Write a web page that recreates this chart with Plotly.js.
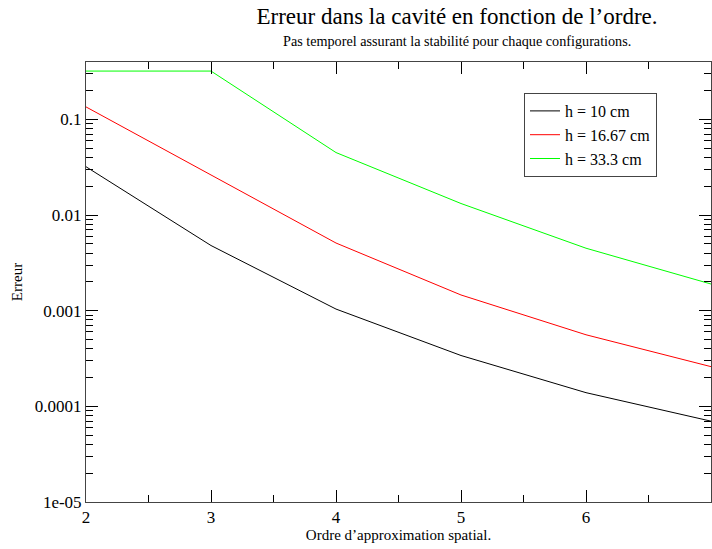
<!DOCTYPE html>
<html>
<head>
<meta charset="utf-8">
<script src="https://cdn.plot.ly/plotly-3.0.1.min.js"></script>
<style>html,body{margin:0;padding:0;background:#fff;}#chart{width:712px;height:549px;}</style>
</head>
<body>
<div id="chart"></div>
<script>
var orders = [2, 3, 4, 5, 6, 7];
var errH10 = [0.032, 0.0048, 0.00104, 0.00034, 0.000139, 0.00007];
var errH1667 = [0.135, 0.026, 0.0051, 0.00146, 0.00056, 0.00026];
var errH333 = [0.32, 0.32, 0.045, 0.0132, 0.0045, 0.0019];
var seriesNames = ['h = 10 cm', 'h = 16.67 cm', 'h = 33.3 cm'];
var yTickVals = [1e-5, 1e-4, 1e-3, 1e-2, 1e-1];
var yTickText = ['1e-05', '0.0001', '0.001', '0.01', '0.1'];

var font = 'Liberation Serif';
var traces = [
  {x: orders, y: errH10, name: seriesNames[0], mode: 'lines', line: {color: '#000000', width: 1}},
  {x: orders, y: errH1667, name: seriesNames[1], mode: 'lines', line: {color: '#ff0000', width: 1}},
  {x: orders, y: errH333, name: seriesNames[2], mode: 'lines', line: {color: '#00ff00', width: 1}}
];
var layout = {
  width: 712, height: 549,
  margin: {l: 86, r: 1, t: 62, b: 47},
  font: {family: font, color: '#000', size: 15},
  title: {text: 'Erreur dans la cavité en fonction de l’ordre.', font: {family: font, size: 23, color: '#000'},
          x: 457/712, xanchor: 'center', xref: 'container', y: 1 - 16/549, yanchor: 'middle', yref: 'container'},
  annotations: [{text: 'Pas temporel assurant la stabilité pour chaque configurations.', xref: 'paper', yref: 'paper',
                 x: 0.5936, y: 1 + 21/440, xanchor: 'center', yanchor: 'middle', showarrow: false,
                 font: {family: font, size: 14.2, color: '#000'}}],
  xaxis: {range: [2, 7], dtick: 1, tick0: 2, gridcolor: 'rgba(0,0,0,0)', zeroline: false,
          showline: true, mirror: 'ticks',
          ticks: 'inside', ticklen: 12, tickcolor: '#000',
          minor: {ticks: 'inside', ticklen: 7, dtick: 0.5},
          tickfont: {family: font, size: 17, color: '#000'},
          title: {text: 'Ordre d’approximation spatial.', font: {family: font, size: 15, color: '#000'}, standoff: 2}},
  yaxis: {type: 'log', range: [-5, -0.4], tickmode: 'array', tickvals: yTickVals, ticktext: yTickText,
          gridcolor: 'rgba(0,0,0,0)', zeroline: false,
          showline: true, mirror: 'ticks',
          ticks: 'inside', ticklen: 12, tickcolor: '#000',
          minor: {ticks: 'inside', ticklen: 7, dtick: 'D1'},
          tickfont: {family: font, size: 17, color: '#000'},
          title: {text: 'Erreur', font: {family: font, size: 15, color: '#000'}, standoff: 8}},
  legend: {x: (524-86)/625, y: 1 - (93-62)/440, xanchor: 'left', yanchor: 'top',
           bordercolor: '#444', borderwidth: 1, bgcolor: '#fff',
           font: {family: font, size: 16, color: '#000'}, itemwidth: 30},
  showlegend: true
};
Plotly.newPlot('chart', traces, layout, {displayModeBar: false});
</script>
</body>
</html>
